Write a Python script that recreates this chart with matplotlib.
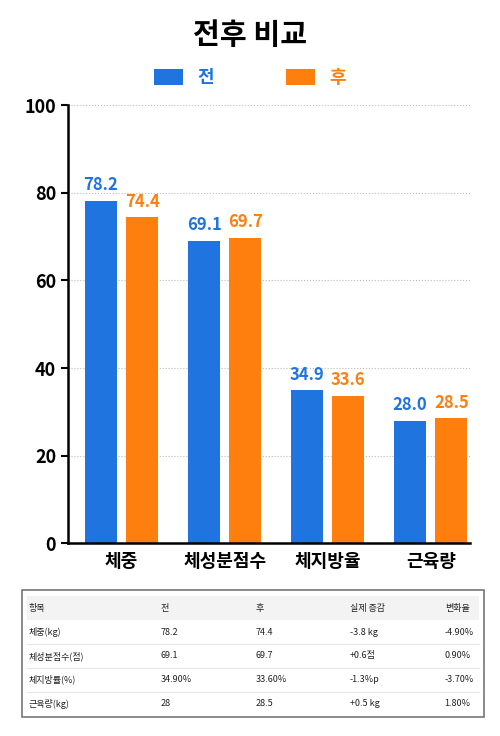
import matplotlib
matplotlib.use("Agg")
import matplotlib.pyplot as plt
from matplotlib.patches import Rectangle

plt.rcParams['font.family'] = ['Noto Sans CJK KR', 'DejaVu Sans']

categories = ['체중', '체성분점수', '체지방율', '근육량']
before = [78.2, 69.1, 34.9, 28.0]
after = [74.4, 69.7, 33.6, 28.5]
yticks = [0, 20, 40, 60, 80, 100]

table_header = ['항목', '전', '후', '실제 증감', '변화율']
table_rows = [
    ['체중(kg)', '78.2', '74.4', '-3.8 kg', '-4.90%'],
    ['체성분점수(점)', '69.1', '69.7', '+0.6점', '0.90%'],
    ['체지방률(%)', '34.90%', '33.60%', '-1.3%p', '-3.70%'],
    ['근육량(kg)', '28', '28.5', '+0.5 kg', '1.80%'],
]

blue = '#1f74e0'
orange = '#ff7f0e'

fig = plt.figure(figsize=(5, 7.36), dpi=100)
ax = fig.add_axes([0.136, 0.262, 0.804, 0.595])
x = list(range(len(categories)))
w = 0.31
off = 0.2
ax.bar([i - off for i in x], before, w, color=blue, label='전')
ax.bar([i + off for i in x], after, w, color=orange, label='후')
for i in x:
    ax.text(i - off, before[i] + 1.5, f'{before[i]:.1f}', ha='center', va='bottom', color=blue, fontsize=12, fontweight='bold')
    ax.text(i + off, after[i] + 1.5, f'{after[i]:.1f}', ha='center', va='bottom', color=orange, fontsize=12, fontweight='bold')
ax.set_xlim(-0.52, 3.38)
ax.set_ylim(0, 100)
ax.set_yticks(yticks)
ax.set_yticklabels([str(t) for t in yticks], fontsize=13, fontweight='bold')
ax.set_xticks(x)
ax.set_xticklabels(categories, fontsize=13, fontweight='bold')
ax.tick_params(axis='x', length=0, pad=6)
ax.tick_params(axis='y', length=5, width=1.5)
ax.yaxis.grid(True, linestyle=':', color='#bbbbbb')
ax.set_axisbelow(True)
for s in ['top', 'right']:
    ax.spines[s].set_visible(False)
ax.spines['left'].set_linewidth(1.8)
ax.spines['bottom'].set_linewidth(1.8)

fig.text(0.5, 0.953, '전후 비교', ha='center', va='center', fontsize=21, fontweight='bold')
leg = fig.legend(loc='center', bbox_to_anchor=(0.5, 0.895), ncol=2, frameon=False,
           handlelength=1.6, handleheight=1.0, columnspacing=4,
           prop={'weight': 'bold', 'size': 13})
for t, c in zip(leg.get_texts(), [blue, orange]):
    t.set_color(c)

# table
tax = fig.add_axes([0.044, 0.026, 0.924, 0.172])
tax.set_xlim(0, 1)
tax.set_ylim(0, 5.3)
tax.axis('off')
tax.add_patch(Rectangle((0, 0), 1, 5.3, fill=False, edgecolor='#777777', lw=1.2, transform=tax.transData, clip_on=False))
tax.add_patch(Rectangle((0.01, 4.05), 0.98, 1.0, color='#f3f3f3', lw=0))
colx = [0.015, 0.3, 0.505, 0.71, 0.915]
rows = [table_header] + table_rows
for r, row in enumerate(rows):
    yc = 4.55 - r * 1.0
    for c, val in enumerate(row):
        tax.text(colx[c], yc, val, fontsize=6.5, va='center', ha='left', color='#222222')
    if r >= 1 and r < len(rows) - 1:
        tax.plot([0.01, 0.99], [yc - 0.5, yc - 0.5], color='#e6e6e6', lw=0.8)

fig.savefig('out.png', dpi=100, facecolor='white')
